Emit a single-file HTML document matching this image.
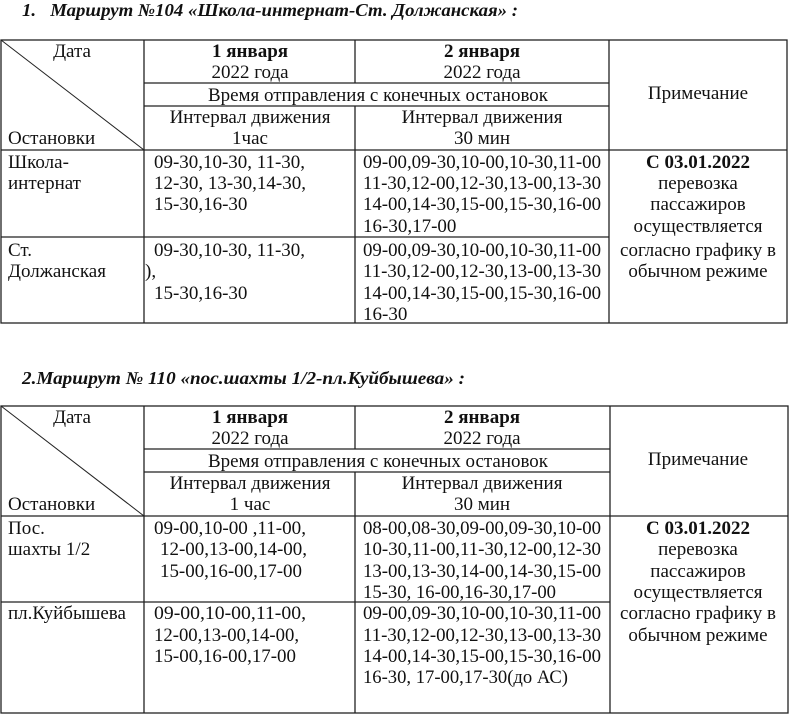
<!DOCTYPE html>
<html><head><meta charset="utf-8"><style>
html,body{margin:0;padding:0;background:#fff;width:790px;height:715px;overflow:hidden}
svg{display:block}
text{font-family:"Liberation Serif",serif;font-size:19px;fill:#111}
.b{font-weight:bold}
.t{font-weight:bold;font-style:italic;font-size:18px}
.c{text-anchor:middle}
</style></head><body>
<svg width="790" height="715" viewBox="0 0 790 715" xmlns="http://www.w3.org/2000/svg">
<g stroke="#222" stroke-width="1.3" fill="none">
<rect x="1" y="40" width="786" height="283"/>
<line x1="144" y1="40" x2="144" y2="323"/>
<line x1="355" y1="40" x2="355" y2="83"/>
<line x1="355" y1="106" x2="355" y2="323"/>
<line x1="609" y1="40" x2="609" y2="323"/>
<line x1="144" y1="83" x2="609" y2="83"/>
<line x1="144" y1="106" x2="609" y2="106"/>
<line x1="1" y1="150" x2="787" y2="150"/>
<line x1="1" y1="237" x2="609" y2="237"/>
<line x1="1" y1="40" x2="144" y2="150" stroke-width="1"/>
<rect x="1" y="406" width="787" height="307"/>
<line x1="144" y1="406" x2="144" y2="713"/>
<line x1="355" y1="406" x2="355" y2="449"/>
<line x1="355" y1="472" x2="355" y2="713"/>
<line x1="610" y1="406" x2="610" y2="713"/>
<line x1="144" y1="449" x2="610" y2="449"/>
<line x1="144" y1="472" x2="610" y2="472"/>
<line x1="1" y1="516" x2="788" y2="516"/>
<line x1="1" y1="602" x2="610" y2="602"/>
<line x1="1" y1="406" x2="144" y2="516" stroke-width="1"/>
</g>
<text class="t" x="22" y="16" textLength="496" lengthAdjust="spacingAndGlyphs">1.&#160;&#160;&#160;Маршрут №104 «Школа-интернат-Ст. Должанская» :</text>
<text class="t" x="22" y="384" textLength="443" lengthAdjust="spacingAndGlyphs">2.Маршрут № 110 «пос.шахты 1/2-пл.Куйбышева» :</text>

<text class="c" x="72" y="57">Дата</text>
<text x="8" y="144">Остановки</text>
<text class="c b" x="250" y="57">1 января</text>
<text class="c" x="250" y="78">2022 года</text>
<text class="c b" x="482" y="57">2 января</text>
<text class="c" x="482" y="78">2022 года</text>
<text class="c" x="378" y="101" textLength="340" lengthAdjust="spacingAndGlyphs">Время отправления с конечных остановок</text>
<text class="c" x="250" y="123">Интервал движения</text>
<text class="c" x="250" y="144">1час</text>
<text class="c" x="482" y="123">Интервал движения</text>
<text class="c" x="482" y="144">30 мин</text>
<text class="c" x="698" y="99">Примечание</text>
<text x="8" y="168">Школа-</text>
<text x="8" y="189">интернат</text>
<text x="154" y="168" textLength="151" lengthAdjust="spacingAndGlyphs">09-30,10-30, 11-30,</text>
<text x="154" y="189" textLength="152" lengthAdjust="spacingAndGlyphs">12-30, 13-30,14-30,</text>
<text x="154" y="210">15-30,16-30</text>
<text x="363" y="168" textLength="238" lengthAdjust="spacingAndGlyphs">09-00,09-30,10-00,10-30,11-00</text>
<text x="363" y="189" textLength="238" lengthAdjust="spacingAndGlyphs">11-30,12-00,12-30,13-00,13-30</text>
<text x="363" y="210" textLength="238" lengthAdjust="spacingAndGlyphs">14-00,14-30,15-00,15-30,16-00</text>
<text x="363" y="232">16-30,17-00</text>
<text x="8" y="256">Ст.</text>
<text x="8" y="277">Должанская</text>
<text x="154" y="256" textLength="151" lengthAdjust="spacingAndGlyphs">09-30,10-30, 11-30,</text>
<text x="145" y="277">),</text>
<text x="154" y="299">15-30,16-30</text>
<text x="363" y="256" textLength="238" lengthAdjust="spacingAndGlyphs">09-00,09-30,10-00,10-30,11-00</text>
<text x="363" y="277" textLength="238" lengthAdjust="spacingAndGlyphs">11-30,12-00,12-30,13-00,13-30</text>
<text x="363" y="299" textLength="238" lengthAdjust="spacingAndGlyphs">14-00,14-30,15-00,15-30,16-00</text>
<text x="363" y="320">16-30</text>
<text class="c b" x="698" y="168">С 03.01.2022</text>
<text class="c" x="698" y="189">перевозка</text>
<text class="c" x="698" y="210">пассажиров</text>
<text class="c" x="698" y="232">осуществляется</text>
<text class="c" x="698" y="256">согласно графику в</text>
<text class="c" x="698" y="277">обычном режиме</text>

<text class="c" x="72" y="423">Дата</text>
<text x="8" y="510">Остановки</text>
<text class="c b" x="250" y="423">1 января</text>
<text class="c" x="250" y="444">2022 года</text>
<text class="c b" x="482" y="423">2 января</text>
<text class="c" x="482" y="444">2022 года</text>
<text class="c" x="378" y="467" textLength="340" lengthAdjust="spacingAndGlyphs">Время отправления с конечных остановок</text>
<text class="c" x="250" y="489">Интервал движения</text>
<text class="c" x="250" y="510">1 час</text>
<text class="c" x="482" y="489">Интервал движения</text>
<text class="c" x="482" y="510">30 мин</text>
<text class="c" x="698" y="465">Примечание</text>
<text x="8" y="534">Пос.</text>
<text x="8" y="555">шахты 1/2</text>
<text x="154" y="534" textLength="152" lengthAdjust="spacingAndGlyphs">09-00,10-00 ,11-00,</text>
<text x="160" y="555" textLength="147" lengthAdjust="spacingAndGlyphs">12-00,13-00,14-00,</text>
<text x="160" y="577" textLength="142" lengthAdjust="spacingAndGlyphs">15-00,16-00,17-00</text>
<text x="363" y="534" textLength="238" lengthAdjust="spacingAndGlyphs">08-00,08-30,09-00,09-30,10-00</text>
<text x="363" y="555" textLength="238" lengthAdjust="spacingAndGlyphs">10-30,11-00,11-30,12-00,12-30</text>
<text x="363" y="577" textLength="238" lengthAdjust="spacingAndGlyphs">13-00,13-30,14-00,14-30,15-00</text>
<text x="363" y="598" textLength="193" lengthAdjust="spacingAndGlyphs">15-30, 16-00,16-30,17-00</text>
<text x="8" y="619">пл.Куйбышева</text>
<text x="154" y="619" textLength="152" lengthAdjust="spacingAndGlyphs">09-00,10-00,11-00,</text>
<text x="154" y="641" textLength="145" lengthAdjust="spacingAndGlyphs">12-00,13-00,14-00,</text>
<text x="154" y="662" textLength="142" lengthAdjust="spacingAndGlyphs">15-00,16-00,17-00</text>
<text x="363" y="619" textLength="238" lengthAdjust="spacingAndGlyphs">09-00,09-30,10-00,10-30,11-00</text>
<text x="363" y="641" textLength="238" lengthAdjust="spacingAndGlyphs">11-30,12-00,12-30,13-00,13-30</text>
<text x="363" y="662" textLength="238" lengthAdjust="spacingAndGlyphs">14-00,14-30,15-00,15-30,16-00</text>
<text x="363" y="683" textLength="205" lengthAdjust="spacingAndGlyphs">16-30, 17-00,17-30(до АС)</text>
<text class="c b" x="698" y="534">С 03.01.2022</text>
<text class="c" x="698" y="555">перевозка</text>
<text class="c" x="698" y="577">пассажиров</text>
<text class="c" x="698" y="598">осуществляется</text>
<text class="c" x="698" y="619">согласно графику в</text>
<text class="c" x="698" y="641">обычном режиме</text>
</svg>
</body></html>
